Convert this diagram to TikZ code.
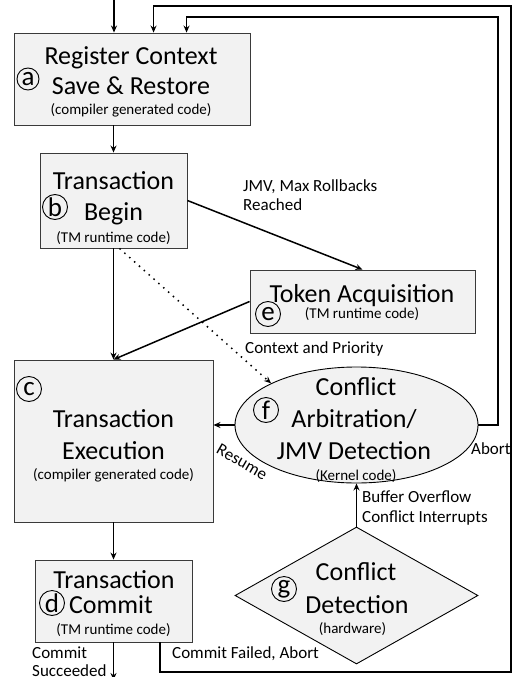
\documentclass[tikz,border=0pt]{standalone}
\usepackage{fontspec}
\setmainfont{Carlito}
\usetikzlibrary{shapes.geometric,arrows.meta,calc}
\definecolor{boxfill}{HTML}{F2F2F2}
\definecolor{boxline}{HTML}{3A3A3A}
\begin{document}
\begin{tikzpicture}[x=1pt,y=-1pt,
  box/.style={draw=boxline, line width=0.9pt, fill=boxfill, inner sep=0pt},
  big/.style={font=\fontsize{26}{30}\selectfont, anchor=base, inner sep=0pt},
  small/.style={font=\fontsize{15}{18}\selectfont, anchor=base, inner sep=0pt},
  lab/.style={font=\fontsize{17}{20}\selectfont, anchor=base west, inner sep=0pt},
  lett/.style={circle, draw, line width=0.9pt, inner sep=0pt, minimum size=25pt, font=\fontsize{27}{27}\selectfont},
  arr/.style={line width=1.5pt, -{Stealth[length=7pt,width=6pt]}},
  dotarr/.style={line width=1.5pt, dash pattern=on 1.5pt off 5pt, -{Stealth[length=7pt,width=6pt]}},
  ln/.style={line width=1.5pt}]
\useasboundingbox (0,0) rectangle (516,677);

% shapes
\node[box, minimum width=236pt, minimum height=92pt] (a) at (132,79) {};
\node[box, minimum width=147pt, minimum height=95pt] (b) at (113.5,200.5) {};
\node[box, minimum width=225pt, minimum height=63pt] (e) at (362.5,301.5) {};
\node[box, minimum width=199pt, minimum height=162pt] (c) at (113.5,441) {};
\node[box, minimum width=157pt, minimum height=82pt] (d) at (113.5,601) {};
\node[box, ellipse, draw=black, minimum width=243pt, minimum height=116pt] (f) at (356.5,425) {};
\node[box, diamond, draw=black, minimum width=243pt, minimum height=137pt] (g) at (356.5,595.5) {};

% texts of a
\node[big] (a1) at (131,65) {Register Context};
\node[big] (a2) at (131,94) {Save \& Restore};
\node[small] (a3) at (131,114) {(compiler generated code)};
\node[lett, minimum size=22pt] (la) at (28,79) {a};
% b
\node[big] (b1) at (113.5,189) {Transaction};
\node[big] (b2) at (113.5,220) {Begin};
\node[small] (b3) at (113.5,242) {(TM runtime code)};
\node[lett] (lb) at (55,207) {b};
% e
\node[big] (e1) at (362,302) {Token Acquisition};
\node[small] (e2) at (362,318) {(TM runtime code)};
\node[lett] (le) at (268,314) {e};
% c
\node[big] (c1) at (113.5,427) {Transaction};
\node[big] (c2) at (113.5,459) {Execution};
\node[small] (c3) at (113.5,479) {(compiler generated code)};
\node[lett] (lc) at (29,389) {c};
% f
\node[big] (f1) at (356,395) {Conflict};
\node[big] (f2) at (354,427) {Arbitration/};
\node[big] (f3) at (354,459) {JMV Detection};
\node[small] (f4) at (356,480) {(Kernel code)};
\node[lett] (lf) at (266,410) {f};
% d
\node[big] (d1) at (114,588) {Transaction};
\node[big] (d2) at (111,613) {Commit};
\node[small] (d3) at (113.5,634) {(TM runtime code)};
\node[lett] (ld) at (52,603) {d};
% g
\node[big] (g1) at (356,580) {Conflict};
\node[big] (g2) at (357,613) {Detection};
\node[small] (g3) at (352.5,633) {(hardware)};
\node[lett] (lg) at (284,589) {g};

% labels
\node[lab] (l1) at (243,191) {JMV, Max Rollbacks};
\node[lab] (l2) at (243,210) {Reached};
\node[lab] (l3) at (245,353) {Context and Priority};
\node[lab] (l4) at (471,454) {Abort};
\node[lab] (l5) at (362,502) {Buffer Overflow};
\node[lab] (l6) at (362,522) {Conflict Interrupts};
\node[lab] (l7) at (32,658) {Commit};
\node[lab] (l8) at (32,676) {Succeeded};
\node[lab] (l9) at (172,658) {Commit Failed, Abort};
\node[font=\fontsize{17}{20}\selectfont, rotate=-30, inner sep=0pt] (l10) at (242,462) {Resume};

% coordinates
\coordinate (in) at (114,0);
\coordinate (out) at (113.5,680);
\coordinate (r1) at (498,17);
\coordinate (br) at (511,672);
\coordinate (tr) at (511,6);

% connectors
\draw[arr] (in) -- (in |- a.north);
\draw[arr] (a.south -| b.north) -- (b.north);
\draw[arr] (b.south) -- (c.north);
\draw[arr] (c.south) -- (d.north);
\draw[arr] (d.south) -- (out);
\draw[arr] (b.east) -- (e.north);
\draw[arr] (e.west) -- (c.north);
\draw[dotarr] ([xshift=6pt]b.south) -- (f.154);
\draw[arr] (f.west) -- (c.east |- f.west);
\draw[arr] (g.north) -- (f.south);
\draw[arr] (f.east) -| (r1) -| ([xshift=173pt]a.north west);
\draw[arr] ([xshift=46.5pt]d.south) |- (br) -- (tr) -| ([xshift=140pt]a.north west);
\end{tikzpicture}
\end{document}
